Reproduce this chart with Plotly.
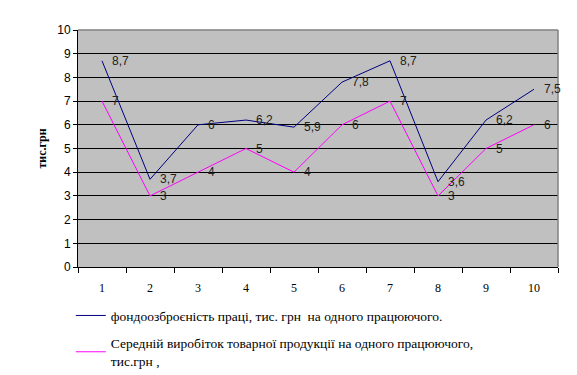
import plotly.graph_objects as go

categories = ["1", "2", "3", "4", "5", "6", "7", "8", "9", "10"]
fondo = [8.7, 3.7, 6, 6.2, 5.9, 7.8, 8.7, 3.6, 6.2, 7.5]
vyrobitok = [7, 3, 4, 5, 4, 6, 7, 3, 5, 6]
name1 = "фондоозброєність праці, тис. грн  на одного працюючого."
name2 = "Середній виробіток товарної продукції на одного працюючого,<br>тис.грн ,"
y_title = "тис.грн"
y_ticks = [0, 1, 2, 3, 4, 5, 6, 7, 8, 9, 10]

def fmt(v):
    return ("%g" % v).replace(".", ",")

fig = go.Figure()
fig.add_trace(go.Scatter(x=categories, y=fondo, mode="lines", name=name1,
                         line=dict(color="#000080", width=1), legendgroup="a"))
fig.add_trace(go.Scatter(x=categories, y=vyrobitok, mode="lines", name=name2,
                         line=dict(color="#FF00FF", width=1), legendgroup="b"))

annotations = []
for series in (fondo, vyrobitok):
    for i, v in enumerate(series):
        annotations.append(dict(x=i, y=v, xref="x", yref="y", text=fmt(v), showarrow=False,
                                xanchor="left", yanchor="middle", xshift=8,
                                font=dict(family="Liberation Sans, Arial", size=12, color="#222222")))

fig.update_layout(
    width=569, height=367,
    margin=dict(l=70, r=19, t=22, b=108, autoexpand=False),
    paper_bgcolor="white",
    plot_bgcolor="#C0C0C0",
    showlegend=True,
    legend=dict(x=-0.015, y=-0.14, xanchor="left", yanchor="top", orientation="v",
                font=dict(family="Liberation Serif, Times New Roman", size=13.5, color="black"),
                tracegroupgap=7, bgcolor="rgba(0,0,0,0)", traceorder="grouped"),
    annotations=annotations,
    shapes=[
        dict(type="line", xref="paper", yref="paper", x0=0, x1=1, y0=1, y1=1,
             line=dict(color="#808080", width=1.5)),
        dict(type="line", xref="paper", yref="paper", x0=1, x1=1, y0=0, y1=1,
             line=dict(color="#808080", width=1.5)),
    ],
)

fig.update_xaxes(type="category", range=[-0.5, 9.5], tickson="boundaries", ticks="outside", ticklen=5,
                 tickcolor="black", showline=True, linecolor="black", linewidth=1,
                 showgrid=False, ticklabelstandoff=10, automargin=False,
                 tickfont=dict(family="Liberation Serif, Times New Roman", size=12, color="black"))
fig.update_yaxes(range=[0, 10], tickvals=y_ticks, ticks="outside", ticklen=4, tickcolor="black",
                 showline=True, linecolor="black", linewidth=1, automargin=False,
                 showgrid=True, gridcolor="black", gridwidth=1, zeroline=False,
                 tickfont=dict(family="Liberation Sans, Arial", size=12, color="black"),
                 title=dict(text="<b>" + y_title + "</b>", standoff=8,
                            font=dict(family="Liberation Serif, Times New Roman", size=12, color="black")))

fig.write_html("out.html")
